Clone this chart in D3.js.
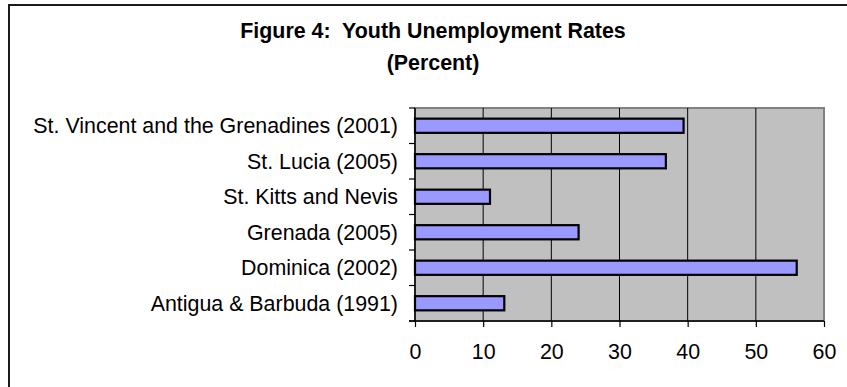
<!DOCTYPE html>
<html>
<head>
<meta charset="utf-8">
<script src="https://cdn.jsdelivr.net/npm/d3@7"></script>
<style>
  html, body { margin: 0; padding: 0; background: #fff; }
  svg { display: block; font-family: "Liberation Sans", Arial, sans-serif; }
</style>
</head>
<body>
<svg id="chart" width="847" height="387"></svg>
<script>
// Youth unemployment rates by country (percent), top to bottom
const countries = [
  "St. Vincent and the Grenadines (2001)",
  "St. Lucia (2005)",
  "St. Kitts and Nevis",
  "Grenada (2005)",
  "Dominica (2002)",
  "Antigua & Barbuda (1991)"
];
const rates = [39.4, 36.8, 11.0, 24.0, 56.0, 13.1];
const xTicks = [0, 10, 20, 30, 40, 50, 60];
const titleLines = ["Figure 4:  Youth Unemployment Rates", "(Percent)"];

const svg = d3.select("#chart");
const plot = { left: 415, right: 824, top: 108, bottom: 321 };
const fontSize = 21.4;

// outer frame (extends past the right and bottom edges)
svg.append("rect")
  .attr("x", 9).attr("y", 5)
  .attr("width", 900).attr("height", 500)
  .attr("fill", "#fff")
  .attr("stroke", "#1a1a1a").attr("stroke-width", 2);

// title
svg.append("g").selectAll("text").data(titleLines).join("text")
  .attr("x", 433)
  .attr("y", (d, i) => 38 + i * 32)
  .attr("text-anchor", "middle")
  .attr("font-weight", "bold")
  .attr("font-size", fontSize)
  .attr("fill", "#000")
  .style("white-space", "pre")
  .text(d => d);

const x = d3.scaleLinear().domain([0, 60]).range([plot.left, plot.right]);
const y = d3.scaleBand().domain(countries)
  .range([plot.top, plot.bottom])
  .paddingInner(0.6).paddingOuter(0.3);

// plot background
svg.append("rect")
  .attr("x", plot.left).attr("y", plot.top)
  .attr("width", plot.right - plot.left).attr("height", plot.bottom - plot.top)
  .attr("fill", "#c0c0c0")
  .attr("stroke", "#808080").attr("stroke-width", 2);

// vertical gridlines
svg.append("g").selectAll("line")
  .data(xTicks.filter(t => t > 0 && t < 60)).join("line")
  .attr("x1", d => x(d)).attr("x2", d => x(d))
  .attr("y1", plot.top).attr("y2", plot.bottom)
  .attr("stroke", "#000").attr("stroke-width", 1);

// bars
svg.append("g").selectAll("rect")
  .data(countries.map((c, i) => ({ c, v: rates[i] }))).join("rect")
  .attr("x", x(0))
  .attr("y", d => y(d.c))
  .attr("width", d => x(d.v) - x(0))
  .attr("height", y.bandwidth())
  .attr("fill", "#9999ff")
  .attr("stroke", "#000").attr("stroke-width", 2.2);

// category axis: line, boundary ticks and labels
const gy = svg.append("g");
gy.append("line")
  .attr("x1", plot.left).attr("x2", plot.left)
  .attr("y1", plot.top).attr("y2", plot.bottom)
  .attr("stroke", "#000").attr("stroke-width", 1.5);
gy.selectAll("line.tick")
  .data(d3.range(countries.length + 1)).join("line")
  .attr("class", "tick")
  .attr("x1", plot.left - 6).attr("x2", plot.left)
  .attr("y1", i => plot.top + i * y.step())
  .attr("y2", i => plot.top + i * y.step())
  .attr("stroke", "#000").attr("stroke-width", 1.2);
gy.selectAll("text")
  .data(countries).join("text")
  .attr("x", 398)
  .attr("y", d => y(d) + y.bandwidth() / 2)
  .attr("dy", "0.35em")
  .attr("text-anchor", "end")
  .attr("font-size", fontSize)
  .attr("fill", "#000")
  .text(d => d);

// value axis
const gx = svg.append("g")
  .attr("transform", `translate(0,${plot.bottom})`)
  .call(d3.axisBottom(x).tickValues(xTicks).tickSize(6).tickSizeOuter(0).tickPadding(17));
gx.select(".domain").remove();
gx.append("line")
  .attr("x1", plot.left - 6).attr("x2", plot.right)
  .attr("y1", 0).attr("y2", 0)
  .attr("stroke", "#000").attr("stroke-width", 1.5);
gx.selectAll(".tick line").attr("stroke", "#000").attr("stroke-width", 1.2);
gx.selectAll(".tick text")
  .attr("font-size", fontSize)
  .attr("font-family", "Liberation Sans, Arial, sans-serif")
  .attr("fill", "#000");
</script>
</body>
</html>
